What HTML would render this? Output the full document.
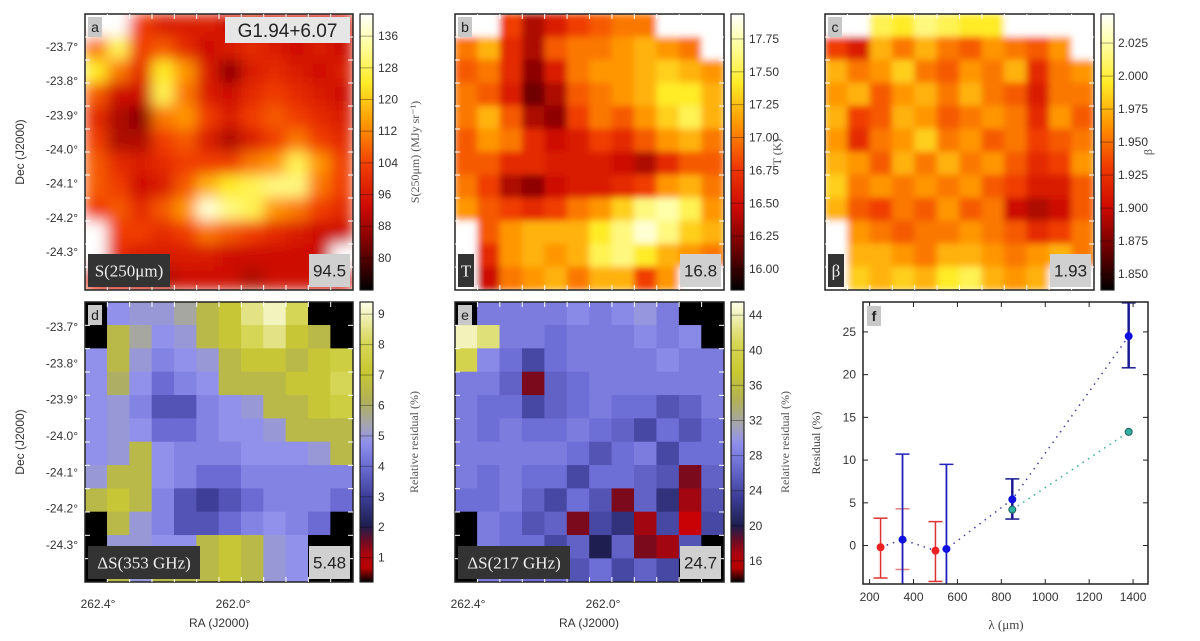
<!DOCTYPE html>
<html><head><meta charset="utf-8">
<style>
html,body{margin:0;padding:0;background:#fff;}
body{width:1200px;height:636px;overflow:hidden;font-family:"Liberation Sans",sans-serif;}
svg text{font-family:"Liberation Sans",sans-serif;}
.serif{font-family:"Liberation Serif",serif;}
</style></head>
<body>
<svg id="fig" width="1200" height="636" viewBox="0 0 1200 636" xmlns="http://www.w3.org/2000/svg">
<defs>
<filter id="blurA" x="-5%" y="-5%" width="110%" height="110%"><feGaussianBlur stdDeviation="7"/></filter>
<filter id="blurB" x="-5%" y="-5%" width="110%" height="110%"><feGaussianBlur stdDeviation="3.5"/></filter>
</defs>
</svg>
<script>
// ---------- heatmap data (12x12 grids, null = masked) ----------
var N = null;
var gridA = [
[N,N,.45,.35,.35,.35,.3,.35,.3,.3,.3,.3],
[.55,.8,.45,.5,.4,.3,.35,.4,.35,.3,.35,.3],
[.75,.55,.4,.75,.6,.35,.2,.35,.4,.35,.3,.35],
[.5,.3,.3,.8,.55,.35,.3,.4,.45,.4,.35,.3],
[.4,.25,.2,.55,.6,.45,.35,.45,.5,.45,.4,.35],
[.45,.25,.25,.45,.5,.35,.25,.35,.45,.55,.45,.4],
[.5,.4,.35,.4,.45,.45,.45,.55,.6,.8,.6,.45],
[.5,.45,.3,.35,.5,.65,.75,.8,.85,.85,.55,.45],
[.45,.5,.4,.5,.6,.95,.85,.8,.6,.55,.45,.4],
[N,.45,.45,.4,.45,.55,.5,.45,.4,.35,.3,.3],
[N,.4,.35,.35,.35,.35,.3,.3,.3,.3,.3,N],
[.35,.3,.3,.25,.3,.3,.3,.25,.3,.3,.3,.3]];
var gridB = [
[N,N,.45,.25,.35,.45,.5,.55,.55,N,N,N],
[.55,.65,.4,.25,.5,.55,.55,.6,.65,.6,.55,N],
[.5,.55,.4,.2,.35,.55,.6,.6,.65,.7,.65,.6],
[.55,.5,.35,.15,.25,.5,.55,.6,.65,.75,.75,.65],
[.55,.65,.5,.25,.2,.45,.55,.5,.6,.7,.8,.65],
[.5,.6,.55,.4,.3,.35,.45,.4,.5,.6,.65,.55],
[.5,.5,.4,.4,.35,.35,.35,.3,.25,.4,.5,.5],
[.55,.45,.25,.2,.3,.35,.35,.4,.45,.6,.65,.55],
[.6,.5,.45,.4,.45,.55,.6,.7,.85,.9,.8,.6],
[N,.5,.6,.65,.65,.65,.75,.85,.95,.85,.7,.65],
[N,.4,.6,.65,.6,.65,.8,.85,.75,.65,.6,.55],
[N,.3,.55,.6,.65,.55,.65,.65,.45,.6,N,N]];
var gridC = [
[N,N,.8,.75,.85,.8,.75,.75,N,N,N,N],
[.45,.35,.65,.55,.65,.55,.5,.6,.55,.5,.6,N],
[.65,.55,.6,.7,.55,.5,.6,.55,.65,.4,.55,.6],
[.6,.65,.5,.6,.65,.55,.65,.55,.5,.35,.55,.55],
[.65,.45,.5,.65,.6,.5,.55,.6,.55,.4,.6,.5],
[.6,.4,.55,.6,.7,.55,.6,.5,.55,.45,.5,.55],
[.65,.6,.5,.65,.55,.65,.55,.6,.5,.4,.45,.6],
[.7,.55,.6,.55,.6,.55,.6,.5,.45,.35,.35,.5],
[.65,.5,.45,.55,.5,.6,.5,.55,.3,.25,.3,.5],
[N,.6,.55,.5,.55,.55,.6,.55,.5,.4,.45,.55],
[N,.65,.65,.6,.55,.65,.65,.6,.55,.6,.65,.55],
[N,.7,.65,.7,.65,.75,.8,.65,.6,.65,N,N]];
var gridD = [
[0,4.8,5,5,5.5,6.5,7,8.5,9,8,0,0],
[0,6.5,5.5,4.8,5,6.5,7,8,8.5,7,6.5,0],
[4.8,6.5,5,4.5,4.8,5,6.5,7,7,6.5,7,7.5],
[4.8,6,4.8,4,4.5,4.8,6.5,6.5,6.5,7,7,8],
[4.8,5,4.5,3.5,3.5,4.5,4.8,5,6.5,6.5,7,7.5],
[4.8,5,4.8,4,4,4.5,4.8,4.8,5,6.5,6.5,6.5],
[4.8,5,6.5,4.8,4.5,4.5,4.5,4.8,4.8,4.8,5,6.5],
[5,6.5,6.5,4.8,4.5,4,4,4.5,4.5,4.5,4.5,4.5],
[6.5,7,6.5,4.5,3.5,3,3.5,4,4.5,4.5,4.5,4],
[0,6.5,5,4.5,3.5,3.5,4,4.5,4.8,4.5,4,0],
[0,5,5,4.8,4.8,6.5,7,6.5,5,4.8,0,0],
[0,6.5,5,6.5,6.5,6.5,7,6.5,5,4.8,0,0]];
var gridE = [
[13,28,28,28,28,29,28,29,30,28,13,13],
[44,42,28,28,27,28,28,28,29,28,29,13],
[40,29,27,24,27,28,28,28,28,29,28,28],
[28,28,26,18,26,27,28,28,28,28,28,28],
[28,27,27,24,26,27,28,27,27,25,26,28],
[28,27,28,27,27,28,27,26,24,27,25,27],
[28,28,28,28,28,27,25,27,28,24,27,27],
[28,27,28,27,27,24,27,27,26,25,18,26],
[27,27,28,26,24,27,25,18,26,22,17,25],
[13,28,27,25,26,18,24,22,17,24,16,24],
[13,28,27,27,24,26,20,26,18,17,25,13],
[13,28,28,27,27,25,27,24,26,24,13,13]];

// colorbar tick labels
var ticksA = [80,88,96,104,112,120,128,136];
var ticksB = [16.00,16.25,16.50,16.75,17.00,17.25,17.50,17.75];
var ticksC = [1.850,1.875,1.900,1.925,1.950,1.975,2.000,2.025];
var ticksD = [1,2,3,4,5,6,7,8,9];
var ticksE = [16,20,24,28,32,36,40,44];
var decTicks = ["-23.7°","-23.8°","-23.9°","-24.0°","-24.1°","-24.2°","-24.3°"];
var raTicks = ["262.4°","262.0°"];

// panel f data
var lamRed = [250,500], valRed = [-0.2,-0.6], loRed = [-3.8,-4.2], hiRed = [3.2,2.8];
var lamBlue = [350,550], valBlue = [0.7,-0.4], loBlue = [-5,-5], hiBlue = [10.7,9.5];
var lamPink = [350], loPink = [-2.8], hiPink = [4.3];
var lamDark = [850,1380], valDark = [5.4,24.5], loDark = [3.1,20.8], hiDark = [7.8,28.4];
var lamTeal = [850,1380], valTeal = [4.2,13.3];
var lamLine = [250,350,500,550,850,1380], valLine = [-0.2,0.7,-0.6,-0.4,5.4,24.5];
var fxTicks = [200,400,600,800,1000,1200,1400];
var fyTicks = [0,5,10,15,20,25];

var NS="http://www.w3.org/2000/svg", fig=document.getElementById('fig');
function el(tag, at, parent){var e=document.createElementNS(NS,tag);for(var k in at)e.setAttribute(k,at[k]);(parent||fig).appendChild(e);return e;}
function hex(c){return '#'+c.map(function(v){v=Math.max(0,Math.min(255,Math.round(v)));return (v<16?'0':'')+v.toString(16);}).join('');}
function cmap(stops,t){t=Math.max(0,Math.min(1,t));for(var i=1;i<stops.length;i++){if(t<=stops[i][0]){var a=stops[i-1],b=stops[i],f=(t-a[0])/(b[0]-a[0]||1);return hex([0,1,2].map(function(j){return a[1][j]+(b[1][j]-a[1][j])*f;}));}}return hex(stops[stops.length-1][1]);}
var HOT=[[0,[0,0,0]],[.15,[110,0,0]],[.3,[205,10,0]],[.45,[240,60,0]],[.6,[255,150,0]],[.75,[255,235,40]],[.9,[255,255,170]],[1,[255,255,255]]];
var RES=[[0,[0,0,0]],[.06,[220,0,0]],[.14,[120,10,30]],[.2,[30,30,80]],[.3,[60,60,150]],[.42,[110,110,215]],[.5,[145,145,235]],[.56,[165,165,180]],[.64,[175,175,90]],[.75,[200,200,50]],[.86,[215,215,90]],[1,[255,255,235]]];

function panel(p){
  var g=el('g',{});  
  var cp=el('clipPath',{id:'clip'+p.id},g); el('rect',{x:p.x,y:p.y,width:p.w,height:p.h},cp);
  var hg=el('g',{'clip-path':'url(#clip'+p.id+')'},g);
  var inner=el('g',p.blur?{filter:'url(#'+p.blur+')'}:{},hg);
  var rows=p.grid.length, cols=p.grid[0].length, cw=p.w/cols, ch=p.h/rows;
  p.grid.forEach(function(row,r){row.forEach(function(v,c){
    var fill = v===null? '#ffffff' : cmap(p.cm,(v-p.vmin)/(p.vmax-p.vmin));
    var rc=el('rect',{x:p.x+c*cw-0.3,y:p.y+r*ch-0.3,width:cw+0.6,height:ch+0.6,fill:fill},inner);
    
    
  });});
  var fr=el('rect',{x:p.x,y:p.y,width:p.w,height:p.h,fill:'none',stroke:'#222','stroke-width':1.5},g);
   
  for(var i=1;i<12;i++){var tx=p.x+i*p.w/12;el('line',{x1:tx,y1:p.y,x2:tx,y2:p.y+5,stroke:'#fff','stroke-width':1},g);el('line',{x1:tx,y1:p.y+p.h,x2:tx,y2:p.y+p.h-5,stroke:'#fff','stroke-width':1},g);
    var ty=p.y+i*p.h/12;el('line',{x1:p.x,y1:ty,x2:p.x+5,y2:ty,stroke:'#fff','stroke-width':1},g);el('line',{x1:p.x+p.w,y1:ty,x2:p.x+p.w-5,y2:ty,stroke:'#fff','stroke-width':1},g);}
  var gid='grad'+p.id, lg=el('linearGradient',{id:gid,x1:0,y1:1,x2:0,y2:0},g);
  for(var s=0;s<=20;s++){el('stop',{offset:s/20,'stop-color':cmap(p.cm,s/20)},lg);}
  var cbx=p.x+p.w+7;
  var cb=el('rect',{x:cbx,y:p.y,width:13,height:p.h,fill:'url(#'+gid+')',stroke:'#222','stroke-width':1.2},g);
   
  p.ticks.forEach(function(t){
    var ty=p.y+p.h-(t-p.vmin)/(p.vmax-p.vmin)*p.h;
    el('line',{x1:cbx,y1:ty,x2:cbx+13,y2:ty,stroke:'#000','stroke-opacity':.35,'stroke-width':1},g);
    var tl=el('text',{x:cbx+18,y:ty+4,'font-size':12,fill:'#333'},g); tl.textContent=p.fmt(t);
     
  });
  if(p.cblabel){var lx=cbx+58, ly=p.y+p.h/2;
  var cl=el('text',{x:lx,y:ly,'font-size':12,fill:'#555','text-anchor':'middle','class':'serif',transform:'rotate(-90 '+lx+' '+ly+')'},g);
  cl.textContent=p.cblabel;  }
  function box(x,y,w,h,fill,txt,tc,fs,serif,name){
    var r=el('rect',{x:x,y:y,width:w,height:h,fill:fill},g);
     
    var t=el('text',{x:x+w/2,y:y+h/2+fs*0.36,'font-size':fs,fill:tc,'text-anchor':'middle'},g);
    if(serif)t.setAttribute('class','serif'); t.textContent=txt;
     
  }
  box(p.x+3,p.y+3,14,20,'#c8c8c8',p.id,'#222',14,false,'panel-letter');
  if(p.nameLbl) box(p.x+p.w-128,p.y+3,125,26,'#e6e6e6',p.nameLbl,'#222',19,false,'field-name');
  box(p.x+3,p.y+p.h-36,p.lw,33,'#333',p.lbl,'#eee',17,true,'map-quantity');
  box(p.x+p.w-44,p.y+p.h-36,41,33,'#d0d0d0',p.med,'#222',17,false,'median-value');
}
function fmt2(v){return v.toFixed(2);} function fmt3(v){return v.toFixed(3);} function fmt0(v){return String(v);}
panel({id:'a',x:85,y:14,w:268,h:276,grid:gridA,cm:HOT,vmin:0,vmax:1,blur:'blurA',ticks:[],fmt:fmt0,cblabel:'',lbl:'S(250μm)',lw:82,med:'94.5',nameLbl:'G1.94+6.07'});
panel({id:'b',x:455,y:14,w:269,h:276,grid:gridB,cm:HOT,vmin:0,vmax:1,blur:'blurB',ticks:[],fmt:fmt0,cblabel:'',lbl:'T',lw:16,med:'16.8'});
panel({id:'c',x:825,y:14,w:269,h:276,grid:gridC,cm:HOT,vmin:0,vmax:1,blur:'blurB',ticks:[],fmt:fmt0,cblabel:'',lbl:'β',lw:16,med:'1.93'});
panel({id:'d',x:85,y:302,w:268,h:280,grid:gridD,cm:RES,vmin:0.2,vmax:9.4,ticks:ticksD,fmt:fmt0,cblabel:'Relative residual (%)',lw:112,lbl:'ΔS(353 GHz)',med:'5.48'});
panel({id:'e',x:455,y:302,w:269,h:280,grid:gridE,cm:RES,vmin:13.6,vmax:45.5,ticks:ticksE,fmt:fmt0,cblabel:'Relative residual (%)',lw:112,lbl:'ΔS(217 GHz)',med:'24.7'});

function cbTicks(x,y,h,vmin,vmax,ticks,fmt,label,lx){
  ticks.forEach(function(t){var ty=y+h-(t-vmin)/(vmax-vmin)*h;
    el('line',{x1:x,y1:ty,x2:x+13,y2:ty,stroke:'#000','stroke-opacity':.35,'stroke-width':1});
    var tl=el('text',{x:x+18,y:ty+4,'font-size':12,fill:'#333'});tl.textContent=fmt(t);
     });
  var cy=y+h/2; var cl=el('text',{x:lx,y:cy,'font-size':12,fill:'#555','text-anchor':'middle','class':'serif',transform:'rotate(-90 '+lx+' '+cy+')'});
  cl.textContent=label;  
}
cbTicks(360,14,276,71.9,141.6,ticksA,fmt0,'S(250μm) (MJy sr⁻¹)',419);
cbTicks(731,14,276,15.84,17.94,ticksB,fmt2,'T (K)',781);
cbTicks(1100,14,276,1.838,2.047,ticksC,fmt3,'β',1152);

[[14,290,47,252],[302,582,327,545]].forEach(function(rw){
  decTicks.forEach(function(t,i){var ty=rw[2]+i*(rw[3]-rw[2])/6;
    var tl=el('text',{x:78,y:ty+4,'font-size':12,fill:'#333','text-anchor':'end'});tl.textContent=t;
     });
  var cy=(rw[0]+rw[1])/2; var dl=el('text',{x:24,y:cy,'font-size':12,fill:'#333','text-anchor':'middle',transform:'rotate(-90 24 '+cy+')'});
  dl.textContent='Dec (J2000)';  
});
[85,455].forEach(function(px){
  raTicks.forEach(function(t,i){var tl=el('text',{x:px+13+i*135,y:608,'font-size':12,fill:'#333','text-anchor':'middle'});tl.textContent=t;
     });
  var rl=el('text',{x:px+134,y:627,'font-size':12,fill:'#333','text-anchor':'middle'});rl.textContent='RA (J2000)';
   
});

// ---------- panel f ----------
var FX0=863,FX1=1148,FY0=302,FY1=584;
function fx(v){return FX0+(v-170)/(1468-170)*(FX1-FX0);}
function fy(v){return FY1-(v+4.5)/(28.5+4.5)*(FY1-FY0);}
var fg=el('g',{});  
var fcp=el('clipPath',{id:'clipf'},fg); el('rect',{x:FX0,y:FY0,width:FX1-FX0,height:FY1-FY0},fcp);
var pg=el('g',{'clip-path':'url(#clipf)'},fg);
fxTicks.forEach(function(t){var x=fx(t);
  el('line',{x1:x,y1:FY0,x2:x,y2:FY0+5,stroke:'#222'},fg);el('line',{x1:x,y1:FY1,x2:x,y2:FY1-5,stroke:'#222'},fg);
  var tl=el('text',{x:x,y:FY1+17,'font-size':12,fill:'#333','text-anchor':'middle'},fg);tl.textContent=t;
   });
fyTicks.forEach(function(t){var y=fy(t);
  el('line',{x1:FX0,y1:y,x2:FX0+5,y2:y,stroke:'#222'},fg);el('line',{x1:FX1,y1:y,x2:FX1-5,y2:y,stroke:'#222'},fg);
  var tl=el('text',{x:FX0-7,y:y+4,'font-size':12,fill:'#333','text-anchor':'end'},fg);tl.textContent=t;
   });
var ln=el('polyline',{points:lamLine.map(function(l,i){return fx(l)+','+fy(valLine[i]);}).join(' '),fill:'none',stroke:'#4040a0','stroke-width':1.5,'stroke-dasharray':'1.5 5'},pg);
 
var tln=el('polyline',{points:lamTeal.map(function(l,i){return fx(l)+','+fy(valTeal[i]);}).join(' '),fill:'none',stroke:'#30b0a0','stroke-width':1.5,'stroke-dasharray':'1.5 5'},pg);
 
function errbar(l,lo,hi,col,w,name){var x=fx(l);
  var e=el('line',{x1:x,y1:fy(lo),x2:x,y2:fy(hi),stroke:col,'stroke-width':w},pg);
   
  el('line',{x1:x-7,y1:fy(lo),x2:x+7,y2:fy(lo),stroke:col,'stroke-width':1.5},pg);
  el('line',{x1:x-7,y1:fy(hi),x2:x+7,y2:fy(hi),stroke:col,'stroke-width':1.5},pg);}
function pt(l,v,col,name,stroke){var c=el('circle',{cx:fx(l),cy:fy(v),r:3.5,fill:col,stroke:stroke||col,'stroke-width':1},pg);
   }
lamPink.forEach(function(l,i){errbar(l,loPink[i],hiPink[i],'#e08080',1.5,'errorbar-pink');});
lamRed.forEach(function(l,i){errbar(l,loRed[i],hiRed[i],'#dd3333',1.5,'errorbar-red');pt(l,valRed[i],'#ee2020','point-red');});
lamBlue.forEach(function(l,i){errbar(l,loBlue[i],hiBlue[i],'#2222bb',1.8,'errorbar-blue');pt(l,valBlue[i],'#1010e0','point-blue');});
lamDark.forEach(function(l,i){errbar(l,loDark[i],hiDark[i],'#1a1a90',2.5,'errorbar-darkblue');pt(l,valDark[i],'#1010e0','point-darkblue');});
lamTeal.forEach(function(l,i){pt(l,valTeal[i],'#30b0a0','point-teal','#206060');});
var ff=el('rect',{x:FX0,y:FY0,width:FX1-FX0,height:FY1-FY0,fill:'none',stroke:'#222','stroke-width':1.5},fg);
 
var fb=el('rect',{x:FX0+4,y:FY0+4,width:14,height:20,fill:'#c8c8c8'},fg);
 
var ft=el('text',{x:FX0+11,y:FY0+19,'font-size':14,'font-weight':'bold',fill:'#222','text-anchor':'middle'},fg);ft.textContent='f';
 
var yt=el('text',{x:820,y:443,'font-size':12,fill:'#444','text-anchor':'middle','class':'serif',transform:'rotate(-90 820 443)'},fg);yt.textContent='Residual (%)';
 
var xt=el('text',{x:1006,y:629,'font-size':13,fill:'#444','text-anchor':'middle','class':'serif'},fg);xt.textContent='λ (μm)';
 
</script>
</body></html>
